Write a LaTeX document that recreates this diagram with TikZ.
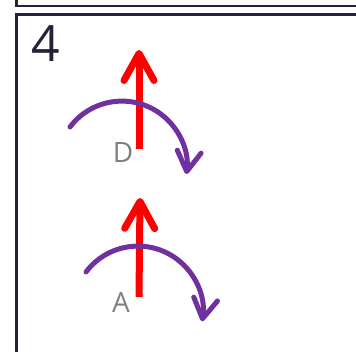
\documentclass[tikz,border=0pt]{standalone}
\usepackage{fontspec}
\setmainfont{Open Sans}
\usepackage{tikz}
\usetikzlibrary{arrows.meta}

\definecolor{frame}{HTML}{22223A}
\definecolor{turncol}{HTML}{7030A0}

\begin{document}
\begin{tikzpicture}[
  x=1pt,y=-1pt,
  box/.style={draw=frame,line width=2.3pt},
  force/.style={red,line width=7pt,
    -{Straight Barb[length=27pt,width=30pt,round]}},
  turn/.style={turncol,line width=5pt,line cap=round,
    -{Straight Barb[length=20pt,width=24pt,round]}},
  lbl/.style={text=gray,font=\fontsize{28}{30}\selectfont,inner sep=0pt},
  num/.style={text=frame,font=\fontsize{50}{52}\selectfont,inner sep=0pt},
]
\useasboundingbox (0,0) rectangle (356,352);
\clip (0,0) rectangle (356,352);
% ---- frames ----
\draw[box] (16.5,-20) rectangle (380,6);
\draw[box] (16.5,14.5) rectangle (380,380);
\node[num] (n4) at (46,44) {4};
% ---- upper pair (D) ----
\coordinate (dbase) at (139,149);
\coordinate (dtip)  at (139,50);
\coordinate (dstart) at (70,127);
\draw[force] (dbase) -- (dtip);
\draw[turn] (dstart) arc[start angle=-143,end angle=7,radius=65];
\node[lbl] (d) at (123,153) {D};
% ---- lower pair (A) ----
\coordinate (abase) at (139,297);
\coordinate (atip)  at (140,198);
\coordinate (astart) at (86,272);
\draw[force] (abase) -- (atip);
\draw[turn] (astart) arc[start angle=-143,end angle=9,radius=65];
\node[lbl] (a) at (121,302) {A};
\end{tikzpicture}
\end{document}
